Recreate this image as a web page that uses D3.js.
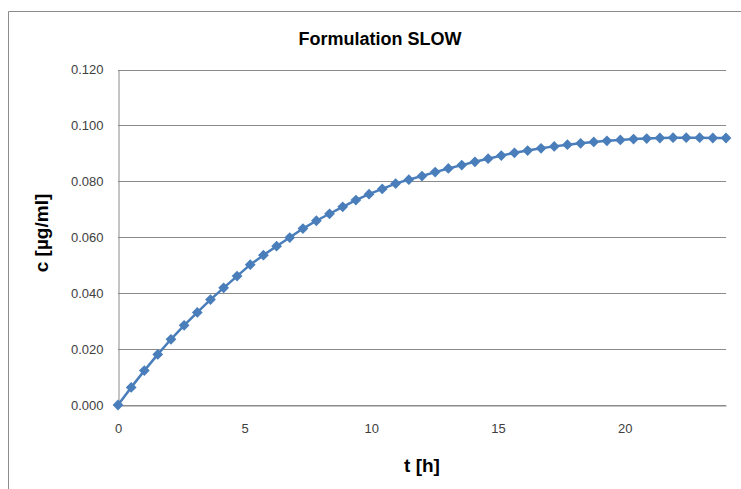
<!DOCTYPE html>
<html>
<head>
<meta charset="utf-8">
<script src="https://cdn.jsdelivr.net/npm/d3@7"></script>
<style>
  html, body { margin: 0; padding: 0; background: #fff; }
  svg { display: block; }
  text { font-family: "Liberation Sans", Arial, sans-serif; }
</style>
</head>
<body>
<script>
// ---- data ----
const title = "Formulation SLOW";
const xTitle = "t [h]";
const yTitle = "c [µg/ml]";
const times = [0, 0.52, 1.04, 1.57, 2.09, 2.61, 3.13, 3.65, 4.17, 4.70,
  5.22, 5.74, 6.26, 6.78, 7.30, 7.83, 8.35, 8.87, 9.39, 9.91,
  10.43, 10.96, 11.48, 12.00, 12.52, 13.04, 13.57, 14.09, 14.61, 15.13,
  15.65, 16.17, 16.70, 17.22, 17.74, 18.26, 18.78, 19.30, 19.83, 20.35,
  20.87, 21.39, 21.91, 22.43, 22.96, 23.48, 24.00];
const conc = [0.0000, 0.0063, 0.0123, 0.0181, 0.0235, 0.0285, 0.0331, 0.0377, 0.0419, 0.0461,
  0.0502, 0.0536, 0.0568, 0.0599, 0.0631, 0.0659, 0.0684, 0.0709, 0.0733, 0.0754,
  0.0773, 0.0792, 0.0806, 0.0819, 0.0833, 0.0846, 0.0858, 0.0870, 0.0881, 0.0892,
  0.0902, 0.0910, 0.0918, 0.0925, 0.0931, 0.0936, 0.0941, 0.0945, 0.0948, 0.0951,
  0.0953, 0.0955, 0.0956, 0.0956, 0.0956, 0.0955, 0.0955];
const xTicks = [0, 5, 10, 15, 20];
const yTicks = [0, 0.02, 0.04, 0.06, 0.08, 0.10, 0.12];

// ---- layout ----
const W = 741, H = 489;
const plot = { left: 118, right: 726, top: 69.5, bottom: 405 };
const blue = "#4a7ebb";

const svg = d3.select("body").append("svg").attr("width", W).attr("height", H);

// chart frame
svg.append("path")
  .attr("d", `M8.5,${H} L8.5,11.5 L${W},11.5`)
  .attr("fill", "none").attr("stroke", "#8c8c8c").attr("stroke-width", 1);

const x = d3.scaleLinear().domain([0, 24]).range([plot.left, plot.right]);
const y = d3.scaleLinear().domain([0, 0.12]).range([plot.bottom, plot.top]);

// gridlines
svg.append("g").selectAll("line").data(yTicks).join("line")
  .attr("x1", plot.left).attr("x2", plot.right)
  .attr("y1", d => Math.round(y(d)) + 0.5).attr("y2", d => Math.round(y(d)) + 0.5)
  .attr("stroke", "#8a8a8a").attr("stroke-width", 1);

// y axis
const yAxis = d3.axisLeft(y).tickValues(yTicks).tickFormat(d3.format(".3f")).tickSize(0).tickPadding(15);
const gy = svg.append("g").attr("transform", `translate(${plot.left + 0.5},0)`).call(yAxis);
gy.select(".domain").attr("stroke", "#8a8a8a");
gy.selectAll("text").attr("font-size", 13).attr("fill", "#404040")
  .attr("font-family", "Liberation Sans, Arial, sans-serif");

// x axis
const xAxis = d3.axisBottom(x).tickValues(xTicks).tickFormat(d3.format("d")).tickSize(0).tickPadding(18);
const gx = svg.append("g").attr("transform", `translate(0,${Math.round(y(0)) + 0.5})`).call(xAxis);
gx.select(".domain").attr("stroke", "#8a8a8a");
gx.selectAll("text").attr("font-size", 13).attr("fill", "#404040")
  .attr("font-family", "Liberation Sans, Arial, sans-serif");

// titles
svg.append("text").attr("x", 380).attr("y", 45).attr("text-anchor", "middle")
  .attr("font-size", 18).attr("font-weight", "bold").attr("fill", "#000").text(title);
svg.append("text").attr("x", 422).attr("y", 472).attr("text-anchor", "middle")
  .attr("font-size", 19).attr("font-weight", "bold").attr("fill", "#000").text(xTitle);
svg.append("text").attr("transform", "translate(48,233) rotate(-90)").attr("text-anchor", "middle")
  .attr("font-size", 19).attr("font-weight", "bold").attr("fill", "#000").text(yTitle);

// series
const pts = times.map((t, i) => ({ t, c: conc[i] }));
svg.append("path").datum(pts)
  .attr("d", d3.line().x(d => x(d.t)).y(d => y(d.c)))
  .attr("fill", "none").attr("stroke", blue).attr("stroke-width", 2.5).attr("stroke-linejoin", "round");

svg.append("g").selectAll("path").data(pts).join("path")
  .attr("transform", d => `translate(${x(d.t)},${y(d.c)}) rotate(45)`)
  .attr("d", d3.symbol(d3.symbolSquare, 58))
  .attr("fill", blue);
</script>
</body>
</html>
